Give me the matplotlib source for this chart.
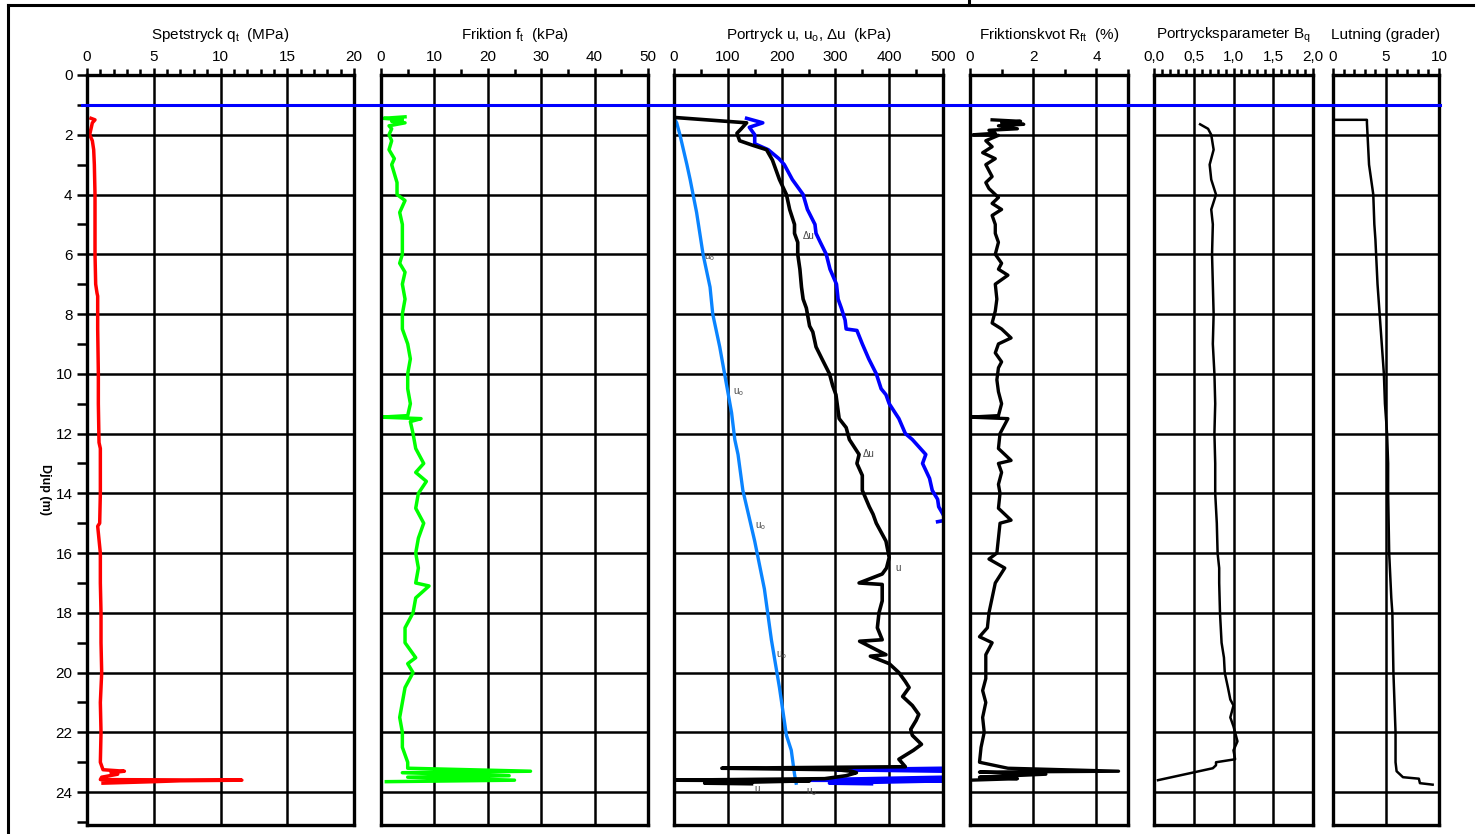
import numpy as np
import matplotlib
matplotlib.use("Agg")
import matplotlib.pyplot as plt
from matplotlib.lines import Line2D
from matplotlib.ticker import MultipleLocator
import matplotlib.transforms as mtransforms

plt.rcParams['font.family'] = ['Liberation Sans', 'DejaVu Sans']
plt.rcParams['mathtext.fontset'] = 'custom'
plt.rcParams['mathtext.rm'] = 'Liberation Sans'
plt.rcParams['mathtext.it'] = 'Liberation Sans'
plt.rcParams['mathtext.bf'] = 'Liberation Sans:bold'

# --- spetstryck qt (MPa)
qt_z = [1.45, 1.5, 1.6, 1.8, 2.0, 2.2, 2.5, 3.0, 4.0, 5.0, 6.0, 7.0, 7.3, 7.4, 8.5, 10, 11, 12.3, 12.5, 13,
        14, 15, 15.1, 16, 17, 18, 19, 20, 21, 22, 23, 23.25, 23.3, 23.35, 23.4, 23.5, 23.58, 23.6, 23.62,
        23.65, 23.7]
qt = [0.3, 0.6, 0.4, 0.3, 0.2, 0.4, 0.5, 0.55, 0.6, 0.6, 0.6, 0.65, 0.75, 0.8, 0.8, 0.85, 0.85, 0.9, 1.0, 1.0,
      1.0, 0.95, 0.8, 1.0, 1.0, 1.05, 1.05, 1.1, 1.0, 1.05, 1.0, 1.2, 2.8, 1.8, 2.3, 1.1, 1.0, 11.6, 7.0,
      5.0, 1.2]

# --- friktion ft (kPa)
ft_z = [1.4, 1.45, 1.5, 1.55, 1.6, 1.7, 1.8, 2.0, 2.2, 2.5, 2.8, 3.0, 3.3, 3.6, 4.0, 4.2, 4.4, 4.6, 5.0, 5.5,
        6.0, 6.3, 6.6, 7.0, 7.5, 8.0, 8.5, 9.0, 9.5, 10.0, 10.5, 11.0, 11.4, 11.45, 11.5, 11.6, 12.0, 12.5,
        13.0, 13.3, 13.6, 14.0, 14.5, 15.0, 15.5, 16.0, 16.5, 17.0, 17.1, 17.5, 18.0, 18.5, 19.0, 19.5,
        19.7, 20.0, 20.5, 21.0, 21.5, 22.0, 22.5, 23.0, 23.2, 23.3, 23.35, 23.45, 23.5, 23.6, 23.65]
ft = [4.5, 0.5, 4.0, 2.0, 4.5, 1.5, 2.0, 1.5, 2.0, 1.5, 2.5, 2.0, 2.5, 3.0, 3.0, 4.5, 4.0, 3.5, 4.0, 4.0,
      4.0, 3.5, 4.5, 4.0, 4.5, 4.0, 4.0, 5.0, 5.5, 5.0, 5.0, 5.5, 5.0, 0.0, 7.5, 5.5, 6.0, 6.5,
      8.0, 6.5, 8.5, 7.0, 6.5, 8.0, 7.0, 6.5, 7.0, 6.5, 9.0, 6.5, 6.0, 4.5, 4.5, 6.5,
      5.0, 6.0, 4.5, 4.0, 3.5, 4.0, 4.0, 5.0, 5.0, 28.0, 4.0, 24.0, 5.0, 25.0, 1.0]

# --- portryck u (kPa)
u_z = [1.45, 1.6, 1.75, 2.0, 2.3, 2.5, 2.8, 3.0, 3.5, 4.0, 4.5, 5.0, 5.3, 5.6, 6.0, 6.5, 7.0, 7.5, 7.8, 8.2,
       8.5, 8.55, 9.0, 9.5, 10.0, 10.5, 10.7, 11.0, 11.5, 12.0, 12.2, 12.7, 13.0, 13.5, 13.9, 14.2, 14.45,
       14.7, 14.9, 14.95, np.nan, 23.2, 23.25, 23.3, 23.5, 23.6, 23.62, 23.7, 23.72]
u = [135, 165, 140, 150, 150, 175, 195, 205, 220, 240, 248, 262, 264, 272, 283, 290, 302, 305, 311, 318,
     320, 340, 350, 362, 376, 385, 394, 400, 418, 430, 443, 468, 462, 475, 480, 490, 492,
     500, 505, 490, np.nan, 505, 302, 505, 505, 215, 505, 289, 367]

# --- portryck u0 (kPa)
u0_z = [1.45, 1.6, 2.0, 3.0, 3.5, 4.6, 6.0, 7.1, 8.0, 9.1, 10.0, 11.3, 12.2, 12.7, 13.9, 15.6, 17.2, 18.9,
        20.5, 22.1, 22.6, 23.4, 23.7]
u0 = [0, 5, 11, 24, 30, 42, 54, 67, 72, 85, 94, 107, 113, 119, 128, 150, 168, 181, 196, 209, 218, 224, 227]

# --- portryck du (kPa)
du_z = [1.4, 1.42, 1.6, 1.8, 1.95, 2.2, 2.35, 2.5, 2.85, 3.2, 3.5, 4.0, 4.5, 5.0, 5.3, 5.6, 6.0, 6.5, 7.1,
        7.5, 7.8, 8.4, 8.6, 9.1, 9.5, 10.0, 10.4, 10.7, 11.5, 11.8, 12.2, 12.7, 13.0, 13.4, 13.9, 14.45,
        14.7, 15.0, 15.3, 15.6, 16.15, 16.5, 16.7, 17.0, 17.05, 17.6, 18.0, 18.5, 18.9, 18.95, 19.4, 19.45,
        19.7, 20.0, 20.3, 20.5, 20.8, 21.1, 21.4, 21.6, 21.9, 22.1, 22.4, 22.6, 22.9, 23.15, 23.2, 23.25,
        23.3, 23.35, 23.45, 23.5, 23.55, 23.6, 23.62, 23.7, 23.72]
du = [0, 0, 135, 125, 117, 122, 146, 172, 183, 190, 196, 209, 215, 224, 224, 230, 230, 234, 237,
      240, 246, 252, 258, 264, 275, 289, 295, 301, 307, 320, 326, 344, 340, 350, 350, 363,
      370, 376, 385, 394, 400, 395, 387, 344, 387, 387, 381, 378, 387, 345, 394, 365,
      400, 418, 430, 437, 425, 443, 455, 450, 440, 443, 460, 445, 418, 430, 89, 302,
      330, 339, 320, 300, 280, 0, 252, 57, 144]

# --- friktionskvot Rf (%)
rf_z = [1.5, 1.55, 1.6, 1.65, 1.7, 1.8, 1.85, 1.95, 2.0, 2.02, 2.2, 2.4, 2.6, 2.8, 3.0, 3.2, 3.4, 3.6, 3.8,
        4.1, 4.3, 4.5, 4.7, 5.0, 5.3, 5.6, 6.0, 6.3, 6.5, 6.7, 7.0, 7.5, 7.9, 8.3, 8.5, 8.8, 9.0, 9.3, 9.6,
        9.8, 10.2, 10.6, 11.0, 11.4, 11.45, 11.5, 12.0, 12.5, 12.9, 13.0, 13.3, 13.7, 14.0, 14.5, 14.9,
        15.0, 15.5, 16.0, 16.2, 16.5, 17.0, 17.5, 18.0, 18.5, 18.8, 19.0, 19.4, 19.8, 20.2, 20.6, 21.0,
        21.5, 22.0, 22.5, 23.0, 23.2, 23.3, 23.33, 23.4, 23.5, 23.55, 23.6]
rf = [0.7, 1.6, 1.0, 1.7, 0.9, 1.5, 0.6, 0.8, 0.1, 0.9, 0.5, 0.7, 0.4, 0.8, 0.5, 0.6, 0.7, 0.5, 0.6,
      0.9, 0.7, 1.0, 0.7, 0.8, 0.8, 0.9, 0.8, 1.0, 0.9, 1.2, 0.8, 0.85, 0.8, 0.7, 1.0, 1.3, 0.9, 0.8, 1.0,
      0.9, 0.85, 0.9, 1.0, 0.9, 0.0, 1.2, 0.95, 0.9, 1.3, 0.9, 1.0, 0.9, 0.95, 0.9, 1.3,
      0.95, 0.9, 0.85, 0.6, 1.1, 0.8, 0.7, 0.6, 0.55, 0.3, 0.7, 0.5, 0.5, 0.5, 0.4, 0.5,
      0.4, 0.45, 0.35, 0.3, 1.2, 4.7, 0.3, 2.4, 0.3, 1.5, 0.0]

# --- portrycksparameter Bq
bq_z = [1.65, 1.8, 2.0, 2.5, 3.0, 3.5, 4.0, 4.5, 5.0, 6.0, 7.0, 8.0, 9.0, 10.0, 11.0, 12.0, 13.0, 14.0, 15.0,
        16.0, 16.5, 17.0, 18.0, 19.0, 19.5, 20.0, 20.5, 20.9, 21.1, 21.5, 21.8, 22.3, 22.6, 22.9, 23.0,
        23.1, 23.2, 23.6]
bq = [0.58, 0.68, 0.72, 0.75, 0.7, 0.72, 0.78, 0.72, 0.74, 0.73, 0.74, 0.75, 0.74, 0.76, 0.77, 0.76, 0.77,
      0.77, 0.79, 0.8, 0.82, 0.82, 0.83, 0.85, 0.88, 0.89, 0.93, 0.96, 1.0, 0.96, 1.0, 1.05, 1.0, 1.02,
      0.78, 0.78, 0.74, 0.05]

# --- lutning (grader)
lut_z = [1.5, 1.5, 1.6, 3.0, 4.0, 5.0, 5.5, 7.0, 8.0, 9.0, 10.0, 11.0, 12.0, 13.0, 14.0, 16.0, 17.5, 18.0,
         20.0, 22.0, 23.0, 23.3, 23.5, 23.55, 23.7, 23.75]
lut = [0.3, 3.2, 3.2, 3.4, 3.8, 3.9, 4.0, 4.2, 4.4, 4.6, 4.8, 4.9, 5.1, 5.2, 5.2, 5.3, 5.5, 5.6,
       5.7, 5.9, 5.9, 6.0, 6.6, 8.1, 8.2, 9.4]

# kurvetiketter i portryckspanelen
lbl_txt = ["Δu", "u$_o$", "u$_o$", "Δu", "u$_o$", "u", "u$_o$", "u", "u$_o$"]
lbl_z = [5.4, 6.1, 10.6, 12.7, 15.1, 16.5, 19.4, 23.9, 24.0]
lbl_u = [240, 55, 110, 350, 150, 412, 190, 150, 245]

W, H = 1479, 834
fig = plt.figure(figsize=(W / 100, H / 100), dpi=100)

top_px, bot_px = 75, 825
zmax = 25.1
panels = [
    (87, 354, (0, 20), 5, 1, "Spetstryck q$_\\mathrm{t}$  (MPa)"),
    (381, 648, (0, 50), 10, 5, "Friktion f$_\\mathrm{t}$  (kPa)"),
    (674, 943, (0, 500), 100, 50, "Portryck u, u$_\\mathrm{o}$, Δu  (kPa)"),
    (970, 1128, (0, 5), 2, 1, "Friktionskvot R$_\\mathrm{ft}$  (%)"),
    (1154, 1313, (0, 2), 0.5, 0.1, "Portrycksparameter B$_\\mathrm{q}$"),
    (1333, 1439, (0, 10), 5, 1, "Lutning (grader)"),
]

axes = []
for i, (x0, x1, xl, maj, mnr, title) in enumerate(panels):
    ax = fig.add_axes([x0 / W, 1 - bot_px / H, (x1 - x0) / W, (bot_px - top_px) / H])
    ax.set_xlim(*xl)
    ax.set_ylim(zmax, 0)
    ax.xaxis.set_major_locator(MultipleLocator(maj))
    ax.xaxis.set_minor_locator(MultipleLocator(mnr))
    ax.xaxis.tick_top()
    ax.tick_params(axis='x', which='major', direction='out', length=5, width=1.8, labelsize=11, pad=3)
    ax.tick_params(axis='x', which='minor', direction='out', length=4, width=1.8)
    ax.yaxis.set_major_locator(MultipleLocator(2))
    ax.yaxis.set_minor_locator(MultipleLocator(1))
    ax.grid(True, which='major', color='black', lw=1.8)
    for sp in ax.spines.values():
        sp.set_linewidth(2.4)
    if i == 0:
        ax.tick_params(axis='y', which='both', direction='out', length=7, width=1.8, labelsize=11)
    else:
        ax.tick_params(axis='y', which='both', left=False, labelleft=False)
    ax.text(0.5, 1 + 40 / (bot_px - top_px), title, transform=ax.transAxes,
            ha='center', va='center', fontsize=11)
    axes.append(ax)

axes[4].xaxis.set_major_formatter(lambda v, p: f"{v:.1f}".replace(".", ","))

axes[0].plot(qt, qt_z, color='#FF0000', lw=2.5)
axes[1].plot(ft, ft_z, color='#00FF00', lw=2.5)
axes[2].plot(u0, u0_z, color='#0A84FF', lw=2.4)
axes[2].plot(u, u_z, color='#0000FF', lw=2.6)
axes[2].plot(du, du_z, color='black', lw=2.6)
for t, z, v in zip(lbl_txt, lbl_z, lbl_u):
    axes[2].text(v, z, t, fontsize=7, color='#444444', ha='left', va='center')
axes[3].plot(rf, rf_z, color='black', lw=2.4)
axes[4].plot(bq, bq_z, color='black', lw=1.8)
axes[5].plot(lut, lut_z, color='black', lw=1.8)

fig.text(45 / W, 1 - 490 / H, "Djup (m)", rotation=270, ha='center', va='center', fontsize=9,
         fontweight='bold')

# grundvattenyta vid 1 m, över alla paneler
trans = mtransforms.blended_transform_factory(fig.transFigure, axes[0].transData)
fig.add_artist(Line2D([82 / W, 1440 / W], [1.0, 1.0], transform=trans, color='#0000FF', lw=2.2))

# ram
fig.add_artist(Line2D([8 / W, 1473 / W], [1 - 5 / H, 1 - 5 / H], color='black', lw=2.2))
fig.add_artist(Line2D([8 / W, 8 / W], [0, 1 - 5 / H], color='black', lw=2.2))
fig.add_artist(Line2D([969 / W, 969 / W], [1 - 5 / H, 1], color='black', lw=2.2))

fig.savefig("out.png", dpi=100)
